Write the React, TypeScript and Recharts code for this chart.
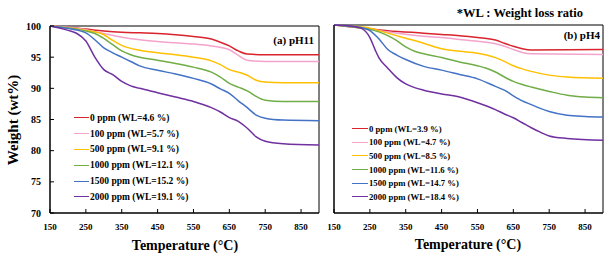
import React from "react";
import { LineChart, Line, XAxis, YAxis, ReferenceArea, Legend } from "recharts";

// Series labels / colours (same order in both panels)
const DOSES = ["0 ppm", "100 ppm", "500 ppm", "1000 ppm", "1500 ppm", "2000 ppm"];
const COLORS = ["#d9232d", "#f4a3cb", "#ffc000", "#70ad47", "#4472c4", "#7030a0"];
const WL_PH11 = [4.6, 5.7, 9.1, 12.1, 15.2, 19.1];
const WL_PH4 = [3.9, 4.7, 8.5, 11.6, 14.7, 18.4];

const X_TICKS = [150, 250, 350, 450, 550, 650, 750, 850];
const Y_TICKS = [70, 75, 80, 85, 90, 95, 100];

// (a) pH11 curves: [temperature, weight %]
const PH11_0 = [[150, 100], [200, 99.8], [250, 99.5], [300, 99.2], [350, 99.0], [400, 98.9], [450, 98.8], [500, 98.6], [550, 98.3], [600, 97.9], [625, 97.4], [650, 96.8], [675, 96.0], [700, 95.5], [750, 95.4], [900, 95.4]];
const PH11_100 = [[150, 100], [200, 99.8], [250, 99.4], [300, 98.8], [350, 98.2], [400, 97.8], [450, 97.5], [500, 97.3], [550, 97.1], [600, 96.8], [650, 96.2], [675, 95.3], [700, 94.5], [750, 94.3], [900, 94.3]];
const PH11_500 = [[150, 100], [200, 99.7], [250, 99.3], [300, 98.6], [325, 97.7], [350, 96.9], [400, 96.1], [450, 95.7], [500, 95.4], [550, 95.0], [600, 94.4], [625, 93.8], [650, 93.0], [675, 92.6], [700, 92.1], [725, 91.3], [750, 91.0], [800, 90.9], [900, 90.9]];
const PH11_1000 = [[150, 100], [200, 99.7], [250, 99.2], [275, 98.8], [300, 98.0], [325, 97.0], [350, 96.0], [375, 95.4], [400, 95.0], [450, 94.5], [500, 94.0], [550, 93.4], [600, 92.6], [625, 91.8], [650, 90.8], [675, 90.2], [700, 89.6], [725, 88.7], [750, 88.1], [800, 87.9], [900, 87.9]];
const PH11_1500 = [[150, 100], [200, 99.6], [250, 98.9], [275, 97.8], [300, 96.5], [325, 95.7], [350, 95.0], [375, 94.3], [400, 93.6], [450, 92.9], [500, 92.3], [550, 91.6], [600, 90.7], [625, 89.9], [650, 89.2], [675, 88.0], [700, 86.9], [725, 85.7], [750, 85.2], [800, 84.9], [900, 84.8]];
const PH11_2000 = [[150, 100], [200, 99.3], [225, 98.8], [250, 97.6], [275, 95.0], [300, 93.0], [325, 92.2], [350, 91.1], [375, 90.4], [400, 90.0], [450, 89.3], [500, 88.6], [550, 87.9], [600, 86.9], [625, 86.2], [650, 85.3], [675, 84.7], [700, 83.6], [725, 82.2], [750, 81.5], [800, 81.1], [900, 80.9]];

// (b) pH4 curves
const PH4_0 = [[150, 100], [200, 99.7], [250, 99.4], [300, 99.1], [400, 98.7], [450, 98.5], [500, 98.3], [550, 98.0], [600, 97.6], [625, 97.1], [650, 96.6], [675, 96.2], [700, 96.0], [900, 96.1]];
const PH4_100 = [[150, 100], [200, 99.7], [250, 99.3], [300, 98.9], [400, 98.2], [450, 98.0], [500, 97.7], [550, 97.4], [600, 97.0], [625, 96.6], [650, 96.1], [675, 95.6], [700, 95.4], [900, 95.3]];
const PH4_500 = [[150, 100], [200, 99.8], [250, 99.5], [275, 99.1], [300, 98.7], [350, 97.9], [400, 97.1], [450, 96.2], [500, 95.8], [550, 95.5], [600, 94.8], [625, 94.2], [650, 93.5], [675, 93.0], [700, 92.6], [750, 92.0], [800, 91.7], [900, 91.5]];
const PH4_1000 = [[150, 100], [200, 99.7], [250, 99.3], [275, 98.9], [300, 98.3], [325, 97.5], [350, 96.5], [375, 95.8], [400, 95.4], [450, 94.8], [500, 94.1], [550, 93.5], [575, 93.1], [600, 92.5], [625, 91.7], [650, 91.0], [675, 90.5], [700, 90.1], [750, 89.4], [800, 88.8], [850, 88.5], [900, 88.4]];
const PH4_1500 = [[150, 100], [200, 99.8], [225, 99.6], [250, 99.1], [275, 97.8], [300, 96.1], [325, 95.2], [350, 94.5], [400, 93.4], [450, 92.8], [500, 92.1], [550, 91.4], [600, 90.2], [625, 89.6], [650, 88.7], [675, 87.9], [700, 87.3], [725, 86.7], [750, 86.2], [800, 85.6], [850, 85.4], [900, 85.3]];
const PH4_2000 = [[150, 100], [200, 99.8], [225, 99.5], [250, 98.0], [265, 96.0], [275, 94.8], [300, 93.1], [325, 91.6], [350, 90.6], [375, 90.0], [400, 89.6], [450, 89.0], [500, 88.5], [550, 87.6], [600, 86.5], [625, 85.8], [650, 85.2], [675, 84.4], [700, 83.6], [725, 82.9], [750, 82.3], [800, 81.9], [900, 81.6]];

const FONT = "'Liberation Serif', 'Times New Roman', serif";

// Custom legend: keep series order and colours (recharts sorts by name otherwise)
const LegendRows = (props: any) => {
  const { payload, rowH, fontSize, lineW } = props;
  const rows = DOSES.map((d, i) => {
    const entry = (payload || []).find((p: any) => String(p.value).startsWith(d + " ("));
    return { label: entry ? entry.value : d, color: COLORS[i] };
  });
  return (
    <div style={{ fontFamily: FONT, fontWeight: "bold", fontSize, color: "#000" }}>
      {rows.map((r) => (
        <div key={r.label} style={{ display: "flex", alignItems: "center", height: rowH, whiteSpace: "nowrap" }}>
          <span style={{ display: "inline-block", width: lineW, borderTop: `1.5px solid ${r.color}`, marginRight: 1 }} />
          <span>{r.label}</span>
        </div>
      ))}
    </div>
  );
};

const Panel = (props: any) => {
  const { series, wl, width, margin, yWidth, yLabels, yTickInside, legend } = props;
  return (
    <LineChart width={width} height={259} margin={margin}>
      <XAxis
        dataKey="t"
        type="number"
        domain={[150, 900]}
        ticks={X_TICKS}
        allowDataOverflow
        height={259 - 213 - margin.bottom}
        stroke="#000"
        tickSize={-4}
        tickMargin={15}
        tick={{ fill: "#000", fontSize: 9, fontWeight: "bold", fontFamily: FONT }}
      />
      <YAxis
        type="number"
        domain={[70, 100]}
        ticks={Y_TICKS}
        width={yWidth}
        stroke="#000"
        tickSize={yTickInside ? -4 : 4}
        tickMargin={yTickInside ? 13 : 2}
        tick={yLabels ? { fill: "#000", fontSize: 10, fontWeight: "bold", fontFamily: FONT } : false}
      />
      <ReferenceArea x1={150} x2={900} y1={70} y2={100} fill="none" stroke="#000" strokeWidth={1} />
      {series.map((pts: number[][], i: number) => (
        <Line
          key={DOSES[i]}
          data={pts.map(([t, w]) => ({ t, w }))}
          dataKey="w"
          name={`${DOSES[i]} (WL=${wl[i]} %)`}
          type="monotone"
          stroke={COLORS[i]}
          strokeWidth={1.5}
          dot={false}
          isAnimationActive={false}
        />
      ))}
      <Legend
        layout="vertical"
        align="center"
        verticalAlign="middle"
        wrapperStyle={{ left: legend.left, top: legend.top, width: "auto" }}
        content={<LegendRows rowH={legend.rowH} fontSize={legend.fontSize} lineW={legend.lineW} />}
      />
    </LineChart>
  );
};

export default function App() {
  const titleStyle = { fontFamily: FONT, fontWeight: "bold" as const, fill: "#000" };
  return (
    <div style={{ position: "absolute", left: 0, top: 0, width: 616, height: 259, background: "#fff", overflow: "hidden" }}>
      <div style={{ position: "absolute", left: 0, top: 0 }}>
        <Panel
          series={[PH11_0, PH11_100, PH11_500, PH11_1000, PH11_1500, PH11_2000]}
          wl={WL_PH11}
          width={322}
          margin={{ top: 26, right: 3, bottom: 0, left: 0 }}
          yWidth={50}
          yLabels
          yTickInside
          legend={{ left: 74, top: 110, rowH: 15.8, fontSize: 9.5, lineW: 15 }}
        />
      </div>
      <div style={{ position: "absolute", left: 310, top: 0 }}>
        <Panel
          series={[PH4_0, PH4_100, PH4_500, PH4_1000, PH4_1500, PH4_2000]}
          wl={WL_PH4}
          width={296}
          margin={{ top: 25, right: 3, bottom: 0, left: 0 }}
          yWidth={24}
          yLabels={false}
          yTickInside={false}
          legend={{ left: 42, top: 122, rowH: 13.6, fontSize: 8.7, lineW: 16 }}
        />
      </div>
      <svg width={616} height={259} style={{ position: "absolute", left: 0, top: 0, pointerEvents: "none" }}>
        <text {...titleStyle} x={13} y={120} fontSize={15} textAnchor="middle" dominantBaseline="central" transform="rotate(-90, 13, 120)">
          Weight (wt%)
        </text>
        <text {...titleStyle} x={185} y={245} fontSize={14} textAnchor="middle" dominantBaseline="central">
          Temperature (°C)
        </text>
        <text {...titleStyle} x={468} y={244} fontSize={14} textAnchor="middle" dominantBaseline="central">
          Temperature (°C)
        </text>
        <text {...titleStyle} x={583} y={13} fontSize={12.5} textAnchor="end" dominantBaseline="central">
          *WL : Weight loss ratio
        </text>
        <text {...titleStyle} x={314} y={40} fontSize={11} textAnchor="end" dominantBaseline="central">
          (a) pH11
        </text>
        <text {...titleStyle} x={600} y={35} fontSize={11} textAnchor="end" dominantBaseline="central">
          (b) pH4
        </text>
      </svg>
    </div>
  );
}
